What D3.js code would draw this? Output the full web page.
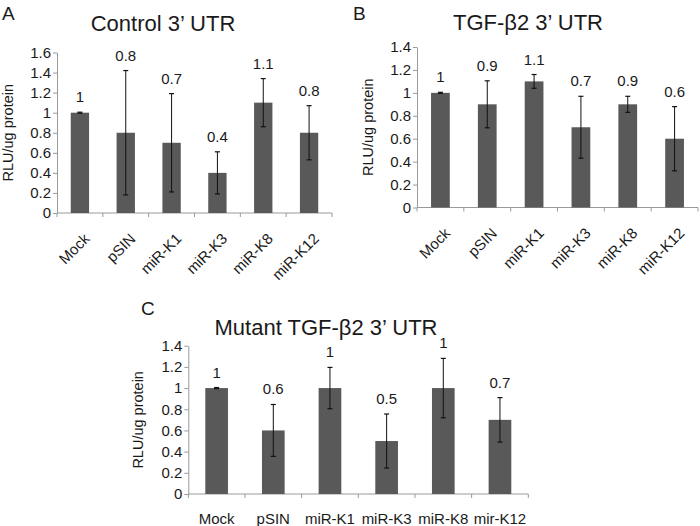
<!DOCTYPE html>
<html>
<head>
<meta charset="utf-8">
<script src="https://cdn.jsdelivr.net/npm/d3@7/dist/d3.min.js"></script>
<style>
  html, body { margin: 0; padding: 0; background: #fff; }
  svg { display: block; font-family: "Liberation Sans", Arial, sans-serif; }
</style>
</head>
<body>
<svg id="chart" width="700" height="526"></svg>
<script>
// ---- data ----
const categoriesAB = ["Mock", "pSIN", "miR-K1", "miR-K3", "miR-K8", "miR-K12"];
const categoriesC  = ["Mock", "pSIN", "miR-K1", "miR-K3", "miR-K8", "mir-K12"];

const valuesA = [1, 0.8, 0.7, 0.4, 1.1, 0.8];
const errorsA = [0.005, 0.62, 0.49, 0.21, 0.24, 0.27];
const labelsA = ["1", "0.8", "0.7", "0.4", "1.1", "0.8"];

const valuesB = [1, 0.9, 1.1, 0.7, 0.9, 0.6];
const errorsB = [0.005, 0.205, 0.06, 0.27, 0.07, 0.28];
const labelsB = ["1", "0.9", "1.1", "0.7", "0.9", "0.6"];

const valuesC = [1, 0.6, 1, 0.5, 1, 0.7];
const errorsC = [0.005, 0.245, 0.195, 0.255, 0.28, 0.21];
const labelsC = ["1", "0.6", "1", "0.5", "1", "0.7"];

const ticksA = [0, 0.2, 0.4, 0.6, 0.8, 1, 1.2, 1.4, 1.6];
const tickLabelsA = ["0", "0.2", "0.4", "0.6", "0.8", "1", "1.2", "1.4", "1.6"];
const ticksBC = [0, 0.2, 0.4, 0.6, 0.8, 1, 1.2, 1.4];
const tickLabelsBC = ["0", "0.2", "0.4", "0.6", "0.8", "1", "1.2", "1.4"];

const titles = ["Control 3\u2019 UTR", "TGF-\u03b22 3\u2019 UTR", "Mutant TGF-\u03b22 3\u2019 UTR"];
const panelLetters = ["A", "B", "C"];
const yTitle = "RLU/ug protein";

// ---- drawing ----
const svg = d3.select("#chart");
const BAR = "#595959", AXIS = "#9a9a9a", TEXT = "#1a1a1a";

function panel(o) {
  const g = svg.append("g");
  const x = d3.scaleBand().domain(o.cats).range([o.x0, o.x1]).paddingInner(0.6).paddingOuter(0.3);
  const y = d3.scaleLinear().domain([0, o.ymax]).range([o.yb, o.yt]);
  const xb = d3.scaleBand().domain(o.cats).range([o.x0, o.x1]);

  // y axis
  const ya = g.append("g").attr("transform", `translate(${o.x0},0)`)
    .call(d3.axisLeft(y).tickValues(o.ticks).tickFormat((d, i) => o.tickLabels[i])
      .tickSize(4).tickSizeOuter(0).tickPadding(2));
  ya.select(".domain").attr("stroke", AXIS);
  ya.selectAll(".tick line").attr("stroke", AXIS);
  ya.selectAll(".tick text").attr("fill", TEXT).style("font-size", "15px")
    .style("font-family", "'Liberation Sans', Arial, sans-serif");

  // x axis line & boundary ticks
  g.append("line").attr("x1", o.x0).attr("x2", o.x1).attr("y1", o.yb).attr("y2", o.yb)
    .attr("stroke", AXIS);
  const bounds = o.cats.map(c => xb(c)).concat([o.x1]);
  g.selectAll(".bt").data(bounds).join("line")
    .attr("x1", d => d).attr("x2", d => d).attr("y1", o.yb).attr("y2", o.yb + 4)
    .attr("stroke", AXIS);

  // x labels
  const xl = g.selectAll(".xl").data(o.cats).join("text")
    .attr("fill", TEXT).style("font-size", "15px").text(d => d);
  if (o.rotate) {
    xl.attr("text-anchor", "end")
      .attr("transform", d => `translate(${xb(d) + xb.bandwidth() / 2 + 7},${o.yb + 23}) rotate(-45)`)
      .attr("dy", "0.35em");
  } else {
    xl.attr("text-anchor", "middle")
      .attr("x", d => xb(d) + xb.bandwidth() / 2).attr("y", o.yb + 30);
  }

  // bars
  g.selectAll(".bar").data(o.values).join("rect")
    .attr("x", (d, i) => x(o.cats[i])).attr("width", x.bandwidth())
    .attr("y", d => y(d)).attr("height", d => y(0) - y(d)).attr("fill", BAR);

  // error bars
  const eb = g.selectAll(".eb").data(o.values).join("g");
  const cx = i => x(o.cats[i]) + x.bandwidth() / 2;
  eb.append("line").attr("x1", (d, i) => cx(i)).attr("x2", (d, i) => cx(i))
    .attr("y1", (d, i) => y(d + o.errors[i])).attr("y2", (d, i) => y(d - o.errors[i]))
    .attr("stroke", "#111").attr("stroke-width", 1);
  [1, -1].forEach(s => {
    eb.append("line").attr("x1", (d, i) => cx(i) - 2.5).attr("x2", (d, i) => cx(i) + 2.5)
      .attr("y1", (d, i) => y(d + s * o.errors[i])).attr("y2", (d, i) => y(d + s * o.errors[i]))
      .attr("stroke", "#111").attr("stroke-width", 1.2);
  });

  // value labels
  g.selectAll(".vl").data(o.values).join("text")
    .attr("text-anchor", "middle").attr("fill", TEXT).style("font-size", "15px")
    .attr("x", (d, i) => cx(i)).attr("y", (d, i) => y(d + o.errors[i]) - 10)
    .text((d, i) => o.labels[i]);

  // y title
  g.append("text").attr("text-anchor", "middle").attr("fill", TEXT).style("font-size", "14.5px")
    .attr("transform", `translate(${o.ytx},${(o.yt + o.yb) / 2}) rotate(-90)`)
    .attr("dy", "0.35em").text(yTitle);

  // chart title
  g.append("text").attr("text-anchor", "middle").attr("fill", TEXT).style("font-size", "22px")
    .attr("x", o.titleX).attr("y", o.titleY).text(o.title);

  // panel letter
  g.append("text").attr("fill", TEXT).style("font-size", "19px")
    .attr("x", o.letterX).attr("y", o.letterY).text(o.letter);
}

panel({ cats: categoriesAB, values: valuesA, errors: errorsA, labels: labelsA,
  ticks: ticksA, tickLabels: tickLabelsA, ymax: 1.6,
  x0: 57, x1: 332, yt: 52.5, yb: 213, rotate: true, ytx: 8,
  title: titles[0], titleX: 163, titleY: 31, letter: panelLetters[0], letterX: 2, letterY: 20 });

panel({ cats: categoriesAB, values: valuesB, errors: errorsB, labels: labelsB,
  ticks: ticksBC, tickLabels: tickLabelsBC, ymax: 1.4,
  x0: 417, x1: 698, yt: 47, yb: 207.5, rotate: true, ytx: 368,
  title: titles[1], titleX: 528, titleY: 30, letter: panelLetters[1], letterX: 353, letterY: 20 });

panel({ cats: categoriesC, values: valuesC, errors: errorsC, labels: labelsC,
  ticks: ticksBC, tickLabels: tickLabelsBC, ymax: 1.4,
  x0: 188.3, x1: 528.3, yt: 345.7, yb: 494, rotate: false, ytx: 137.5,
  title: titles[2], titleX: 326, titleY: 335, letter: panelLetters[2], letterX: 141, letterY: 315 });
</script>
</body>
</html>
